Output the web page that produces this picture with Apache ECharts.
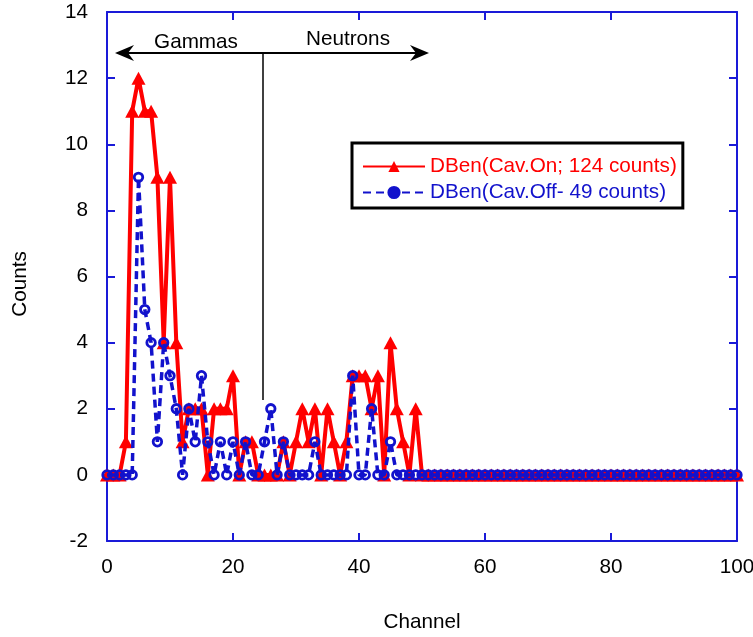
<!DOCTYPE html>
<html><head><meta charset="utf-8">
<script src="https://cdn.jsdelivr.net/npm/echarts@6/dist/echarts.min.js"></script>
<style>html,body{margin:0;padding:0;background:#fff}#c{width:753px;height:637px}</style>
</head><body><div id="c"></div>
<script>
const channels = [];
for (let i = 0; i <= 100; i++) channels.push(i);
const cavOn = [
 0,0,0,1,11,12,11,11,9,4,
 9,4,1,2,2,2,0,2,2,2,
 3,0,1,1,0,0,0,0,1,0,
 1,2,1,2,0,2,1,0,1,3,
 3,3,2,3,0,4,2,1,0,2,
 0,0,0,0,0,0,0,0,0,0,
 0,0,0,0,0,0,0,0,0,0,
 0,0,0,0,0,0,0,0,0,0,
 0,0,0,0,0,0,0,0,0,0,
 0,0,0,0,0,0,0,0,0,0,
 0];
const cavOff = [
 0,0,0,0,0,9,5,4,1,4,
 3,2,0,2,1,3,1,0,1,0,
 1,0,1,0,0,1,2,0,1,0,
 0,0,0,1,0,0,0,0,0,3,
 0,0,2,0,0,1,0,0,0,0,
 0,0,0,0,0,0,0,0,0,0,
 0,0,0,0,0,0,0,0,0,0,
 0,0,0,0,0,0,0,0,0,0,
 0,0,0,0,0,0,0,0,0,0,
 0,0,0,0,0,0,0,0,0,0,
 0];
const seriesNames = ['DBen(Cav.On; 124 counts)', 'DBen(Cav.Off- 49 counts)'];
const xTicks = [0, 20, 40, 60, 80, 100];
const yTicks = [-2, 0, 2, 4, 6, 8, 10, 12, 14];
const regionLabels = ['Gammas', 'Neutrons'];
const axisTitles = ['Channel', 'Counts'];

const RED = '#ff0000', BLUE = '#1212cc', AXIS = '#1a1ad8';
const FONT = 'Liberation Sans, Arial, sans-serif';
const FS = 20.7;
const chart = echarts.init(document.getElementById('c'));
const pairs = arr => channels.map((c, i) => [c, arr[i]]);

const axCommon = {
  type: 'value',
  axisLine: { show: true, onZero: false, lineStyle: { color: AXIS, width: 2 } },
  axisTick: { show: true, inside: true, length: 8, lineStyle: { color: AXIS, width: 2 } },
  splitLine: { show: false },
};
chart.setOption({
  animation: false,
  backgroundColor: '#fff',
  grid: { left: 107, top: 12, right: 16, bottom: 96, containLabel: false, outerBoundsMode: 'none' },
  xAxis: [
    Object.assign({}, axCommon, { position: 'bottom', min: xTicks[0], max: xTicks[xTicks.length-1], interval: 20,
      name: axisTitles[0], nameLocation: 'middle', nameGap: 71,
      nameTextStyle: { fontFamily: FONT, fontSize: FS, color: '#000' },
      axisLabel: { fontFamily: FONT, fontSize: FS, color: '#000', margin: 16 } }),
    Object.assign({}, axCommon, { position: 'top', min: 0, max: 100, interval: 20, axisLabel: { show: false } })
  ],
  yAxis: [
    Object.assign({}, axCommon, { position: 'left', min: yTicks[0], max: yTicks[yTicks.length-1], interval: 2,
      axisLabel: { fontFamily: FONT, fontSize: FS, color: '#000', margin: 19 } }),
    Object.assign({}, axCommon, { position: 'right', min: -2, max: 14, interval: 2, axisLabel: { show: false } })
  ],
  legend: {
    left: 352, top: 143, orient: 'vertical', itemGap: 5,
    itemWidth: 62, itemHeight: 14,
    padding: [13, 6, 5, 10],
    borderColor: '#000', borderWidth: 3, backgroundColor: '#fff',
    textStyle: { fontFamily: FONT, fontSize: FS },
    data: [
      { name: seriesNames[0], textStyle: { color: RED } },
      { name: seriesNames[1], textStyle: { color: BLUE }, itemStyle: { color: BLUE } }
    ]
  },
  series: [
    { name: seriesNames[0], type: 'line', data: pairs(cavOn), z: 3,
      lineStyle: { color: RED, width: 4 }, itemStyle: { color: RED },
      symbol: 'triangle', symbolSize: [14, 13] },
    { name: seriesNames[1], type: 'line', data: pairs(cavOff), z: 4,
      lineStyle: { color: BLUE, width: 3.5, type: [8, 5] },
      itemStyle: { color: 'rgba(255,255,255,0)', borderColor: BLUE, borderWidth: 2.8 },
      symbol: 'circle', symbolSize: 8.5 }
  ],
  graphic: [
    { type: 'line', shape: { x1: 118, y1: 53, x2: 425, y2: 53 }, style: { stroke: '#000', lineWidth: 2 }, z: 10 },
    { type: 'line', shape: { x1: 263, y1: 53, x2: 263, y2: 400 }, style: { stroke: '#000', lineWidth: 1.5 }, z: 10 },
    { type: 'polygon', shape: { points: [[115,53],[134,45],[128,53],[134,61]] }, style: { fill: '#000' }, z: 10 },
    { type: 'polygon', shape: { points: [[429,53],[410,45],[416,53],[410,61]] }, style: { fill: '#000' }, z: 10 },
    { type: 'text', x: 196, y: 42, style: { text: regionLabels[0], fill: '#000', font: FS + 'px ' + FONT, align: 'center', verticalAlign: 'middle' }, z: 10 },
    { type: 'text', x: 348, y: 39, style: { text: regionLabels[1], fill: '#000', font: FS + 'px ' + FONT, align: 'center', verticalAlign: 'middle' }, z: 10 },
    { type: 'text', x: 20, y: 284, rotation: Math.PI / 2, style: { text: axisTitles[1], fill: '#000', font: FS + 'px ' + FONT, align: 'center', verticalAlign: 'middle' }, z: 10 }
  ]
});
</script></body></html>
